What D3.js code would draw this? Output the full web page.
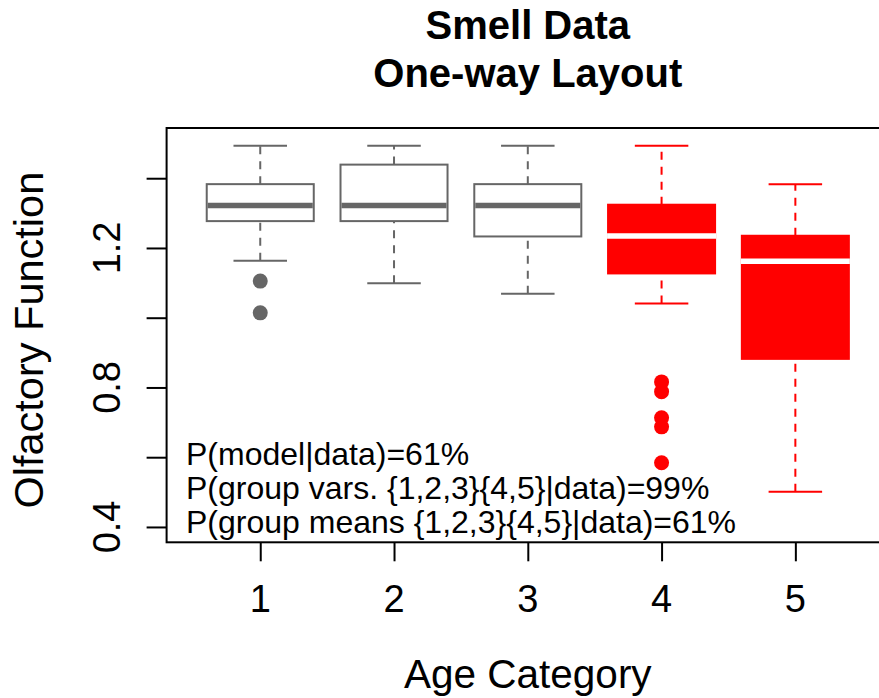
<!DOCTYPE html>
<html>
<head>
<meta charset="utf-8">
<script src="https://cdn.jsdelivr.net/npm/d3@7"></script>
<style>
  body { margin: 0; background: #ffffff; }
  svg { display: block; font-family: "Liberation Sans", Arial, sans-serif; }
</style>
</head>
<body>
<svg class="chart" width="879" height="698"></svg>
<script>
// box stats, one entry per age group
var categories = ["1", "2", "3", "4", "5"];
var lowerWhisker = [1.163, 1.099, 1.069, 1.041, 0.501];
var q1 = [1.277, 1.277, 1.233, 1.127, 0.882];
var medians = [1.322, 1.322, 1.322, 1.234, 1.162];
var q3 = [1.383, 1.439, 1.383, 1.324, 1.235];
var upperWhisker = [1.493, 1.493, 1.493, 1.493, 1.383];
var outliers = [[1.105, 1.014], [], [], [0.816, 0.788, 0.713, 0.687, 0.584], []];
var highlighted = [false, false, false, true, true];

var yTicks = [0.4, 0.6, 0.8, 1.0, 1.2, 1.4];
var yLabels = [0.4, 0.8, 1.2];

var notes = [
    "P(model|data)=61%",
    "P(group vars. {1,2,3}{4,5}|data)=99%",
    "P(group means {1,2,3}{4,5}|data)=61%"
];

var gray = "#666666";
var red = "#ff0000";

var plot = {left: 166.6, top: 128, right: 889, bottom: 542.3};

var svg = d3.select(".chart");

// R style limits: ylim 0.4..1.5 and x 0.5..5.5, each padded by 4%
var x = d3.scaleLinear().domain([0.3, 5.7]).range([plot.left, plot.right]);
var y = d3.scaleLinear().domain([0.356, 1.544]).range([plot.bottom, plot.top]);

var boxes = categories.map(function(c, i){
    return {
        pos: i + 1,
        lo: lowerWhisker[i],
        q1: q1[i],
        med: medians[i],
        q3: q3[i],
        hi: upperWhisker[i],
        out: outliers[i],
        col: highlighted[i] ? red : gray,
        hl: highlighted[i]
    };
});

var g = svg.selectAll(".box")
    .data(boxes)
    .enter().append("g")
    .attr("class", "box");

// whiskers, dashed
g.append("line")
    .attr("x1", function(d){ return x(d.pos); })
    .attr("x2", function(d){ return x(d.pos); })
    .attr("y1", function(d){ return y(d.lo); })
    .attr("y2", function(d){ return y(d.q1); })
    .attr("stroke", function(d){ return d.col; })
    .attr("stroke-width", 2)
    .attr("stroke-dasharray", "8,7");

g.append("line")
    .attr("x1", function(d){ return x(d.pos); })
    .attr("x2", function(d){ return x(d.pos); })
    .attr("y1", function(d){ return y(d.q3); })
    .attr("y2", function(d){ return y(d.hi); })
    .attr("stroke", function(d){ return d.col; })
    .attr("stroke-width", 2)
    .attr("stroke-dasharray", "8,7");

// staples
["lo", "hi"].forEach(function(k){
    g.append("line")
        .attr("x1", function(d){ return x(d.pos - 0.2); })
        .attr("x2", function(d){ return x(d.pos + 0.2); })
        .attr("y1", function(d){ return y(d[k]); })
        .attr("y2", function(d){ return y(d[k]); })
        .attr("stroke", function(d){ return d.col; })
        .attr("stroke-width", 2);
});

// box
g.append("rect")
    .attr("x", function(d){ return x(d.pos - 0.4); })
    .attr("width", function(d){ return x(d.pos + 0.4) - x(d.pos - 0.4); })
    .attr("y", function(d){ return y(d.q3); })
    .attr("height", function(d){ return y(d.q1) - y(d.q3); })
    .attr("fill", function(d){ return d.hl ? red : "#ffffff"; })
    .attr("stroke", function(d){ return d.col; })
    .attr("stroke-width", 2);

// median
g.append("line")
    .attr("x1", function(d){ return x(d.pos - 0.4) + (d.hl ? -1 : 1); })
    .attr("x2", function(d){ return x(d.pos + 0.4) - (d.hl ? -1 : 1); })
    .attr("y1", function(d){ return y(d.med); })
    .attr("y2", function(d){ return y(d.med); })
    .attr("stroke", function(d){ return d.hl ? "#ffffff" : gray; })
    .attr("stroke-width", 5.5);

// outliers
g.each(function(d){
    d3.select(this).selectAll("circle")
        .data(d.out)
        .enter().append("circle")
        .attr("cx", x(d.pos))
        .attr("cy", function(v){ return y(v); })
        .attr("r", 7.5)
        .attr("fill", d.col);
});

// plot frame
svg.append("rect")
    .attr("x", plot.left)
    .attr("y", plot.top)
    .attr("width", plot.right - plot.left)
    .attr("height", plot.bottom - plot.top)
    .attr("fill", "none")
    .attr("stroke", "#000000")
    .attr("stroke-width", 2);

// y axis
var yAxis = svg.append("g")
    .attr("transform", "translate(" + plot.left + ",0)")
    .call(d3.axisLeft(y).tickValues(yTicks).tickSize(20).tickFormat(""));
yAxis.select(".domain").remove();
yAxis.selectAll(".tick line").attr("stroke", "#000000").attr("stroke-width", 2);

svg.selectAll(".ylab")
    .data(yLabels)
    .enter().append("text")
    .attr("class", "ylab")
    .attr("transform", function(d){ return "translate(120," + y(d) + ") rotate(-90)"; })
    .attr("text-anchor", "middle")
    .attr("font-size", 38)
    .text(function(d){ return d3.format(".1f")(d); });

// x axis
var xAxis = svg.append("g")
    .attr("transform", "translate(0," + plot.bottom + ")")
    .call(d3.axisBottom(x).tickValues([1, 2, 3, 4, 5]).tickSize(19).tickFormat(""));
xAxis.select(".domain").remove();
xAxis.selectAll(".tick line").attr("stroke", "#000000").attr("stroke-width", 2);

svg.selectAll(".xlab")
    .data(categories)
    .enter().append("text")
    .attr("class", "xlab")
    .attr("x", function(d, i){ return x(i + 1); })
    .attr("y", 612)
    .attr("text-anchor", "middle")
    .attr("font-size", 38)
    .text(function(d){ return d; });

// titles
var midX = (plot.left + plot.right) / 2;
svg.append("text")
    .attr("x", midX).attr("y", 39)
    .attr("text-anchor", "middle")
    .attr("font-size", 40).attr("font-weight", "bold")
    .text("Smell Data");
svg.append("text")
    .attr("x", midX).attr("y", 87)
    .attr("text-anchor", "middle")
    .attr("font-size", 40).attr("font-weight", "bold")
    .text("One-way Layout");

svg.append("text")
    .attr("x", midX).attr("y", 688)
    .attr("text-anchor", "middle")
    .attr("font-size", 40.5)
    .text("Age Category");

svg.append("text")
    .attr("transform", "translate(43," + ((plot.top + plot.bottom) / 2 + 5) + ") rotate(-90)")
    .attr("text-anchor", "middle")
    .attr("font-size", 41.5)
    .text("Olfactory Function");

// posterior probabilities
svg.selectAll(".note")
    .data(notes)
    .enter().append("text")
    .attr("class", "note")
    .attr("x", 186)
    .attr("y", function(d, i){ return 465 + i * 34; })
    .attr("font-size", 32)
    .text(function(d){ return d; });
</script>
</body>
</html>
